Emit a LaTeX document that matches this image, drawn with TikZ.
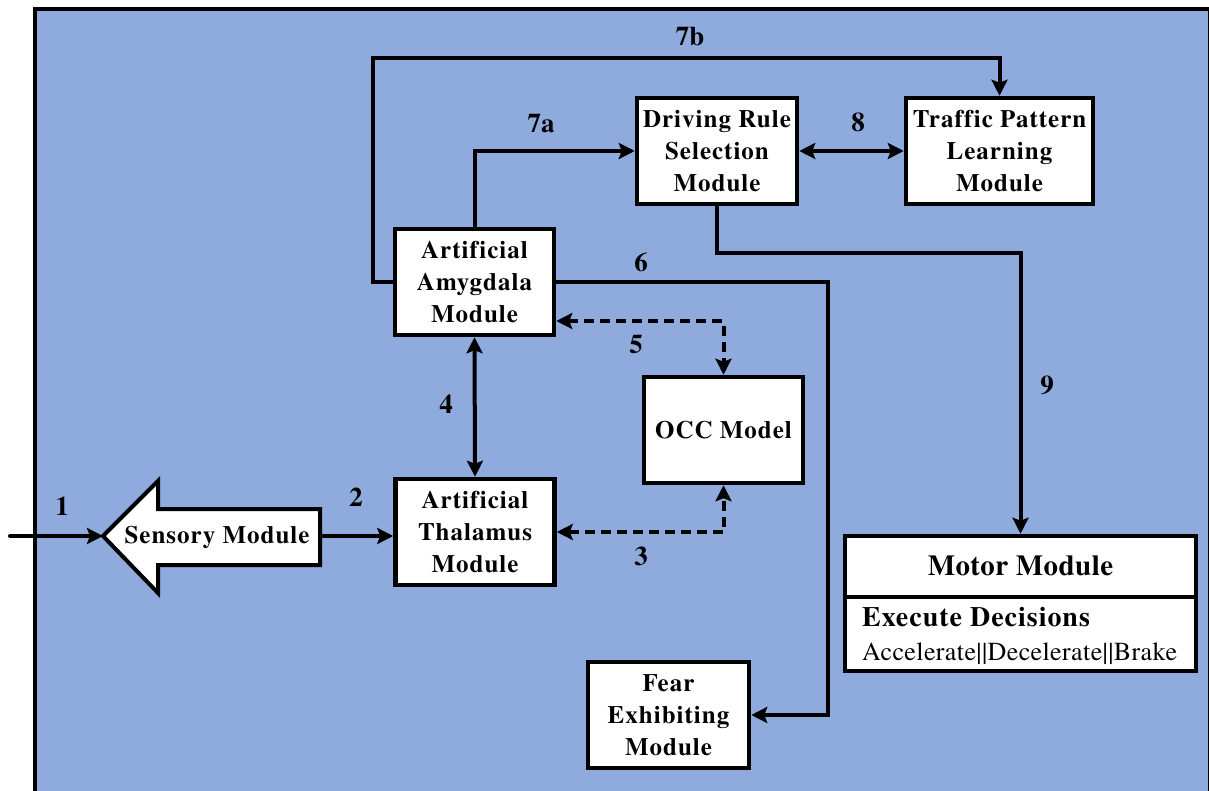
\documentclass[tikz,border=0pt]{standalone}
\usepackage{fontspec}
\setmainfont{texgyretermes}[Extension=.otf, UprightFont=*-regular, BoldFont=*-bold, ItalicFont=*-italic, BoldItalicFont=*-bolditalic, Ligatures=NoCommon]
\usetikzlibrary{arrows.meta}
\definecolor{framebg}{RGB}{143,170,220}
\tikzset{
  box/.style={draw, line width=4.5pt, fill=white, align=center, inner sep=0pt,
    font=\bfseries\fontsize{25}{32}\selectfont\addfontfeature{LetterSpace=4}},
  tipS/.tip={Stealth[length=16pt,width=16pt,inset=3pt]},
  conn/.style={line width=4pt, -tipS},
  bconn/.style={line width=4pt, tipS-tipS},
  dconn/.style={line width=4pt, tipS-tipS, dash pattern=on 10pt off 6pt},
  lab/.style={font=\bfseries\fontsize{27}{30}\selectfont, inner sep=0pt}
}
\begin{document}
\begin{tikzpicture}[x=1pt,y=-1pt]
\useasboundingbox (0,0) rectangle (1209,791);
\draw[fill=framebg, line width=4pt] (35,9) rectangle (1210,805);

% boxes
\node[box, minimum width=159pt, minimum height=106pt] (thal) at (475,532) {Artificial\\Thalamus\\Module};
\node[box, minimum width=159pt, minimum height=106pt] (amyg) at (474.5,282) {Artificial\\Amygdala\\Module};
\node[box, minimum width=160pt, minimum height=106pt] (drive) at (717,151) {Driving Rule\\Selection\\Module};
\node[box, minimum width=187pt, minimum height=106pt] (traffic) at (999.5,151) {Traffic Pattern\\Learning\\Module};
\node[box, minimum width=159pt, minimum height=106pt] (occ) at (723.5,430) {OCC Model};
\node[box, minimum width=161pt, minimum height=106pt] (fear) at (668.5,715) {Fear\\Exhibiting\\Module};

% motor module
\node[box, minimum width=351pt, minimum height=135pt] (motor) at (1020.5,603.5) {};
\draw[line width=4.5pt] (motor.west |- 0,597) -- (motor.east |- 0,597);
\node[font=\bfseries\fontsize{29}{34}\selectfont\addfontfeature{LetterSpace=1.5}, inner sep=0pt] (motorhead) at (1020.5,566) {Motor Module};
\node[anchor=west, inner sep=0pt, font=\bfseries\fontsize{28}{32}\selectfont\addfontfeature{LetterSpace=3.5}] (exec) at (862,617) {Execute Decisions};
\node[anchor=west, inner sep=0pt, font=\fontsize{26}{30}\selectfont\addfontfeature{LetterSpace=1.5}] (acts) at (862,654) {Accelerate||Decelerate||Brake};

% sensory arrow shape
\draw[line width=4pt, fill=white, line join=miter] (103,536) -- (158,481) -- (158,509) -- (320,509) -- (320,565) -- (158,565) -- (158,593) -- cycle;
\node[font=\bfseries\fontsize{25}{30}\selectfont\addfontfeature{LetterSpace=4}, inner sep=0pt] (sens) at (217,537) {Sensory Module};
\coordinate (senstip) at (103,536);
\coordinate (sensend) at (320,536);
\coordinate (input) at (10,536);

% connectors
\draw[conn, line cap=round] (input) -- (senstip);
\draw[conn] (sensend) -- (thal.west |- sensend);
\draw[bconn] (thal.north) -- (amyg.south);
\draw[dconn] (thal.east) -| (occ.south);
\draw[dconn] ([yshift=-39pt]amyg.east) -| (occ.north);
\coordinate (c6) at (828,0);
\draw[conn, line join=miter] (amyg.east) -| (c6 |- fear.east) -- (fear.east);
\draw[conn, line join=miter] (amyg.north) |- (drive.west);
\coordinate (c7b) at (373,58);
\draw[conn, line join=miter] (amyg.west) -| (c7b) -| (traffic.north);
\draw[bconn] (drive.east) -- (traffic.west);
\coordinate (c9) at (0,253);
\draw[conn, line join=miter] (drive.south) -- (drive.south |- c9) -| (motor.north);

% labels
\node[lab] (l1) at (62,506) {1};
\node[lab] (l2) at (356,497) {2};
\node[lab] (l3) at (641,556) {3};
\node[lab] (l4) at (446,404) {4};
\node[lab] (l5) at (636,344) {5};
\node[lab] (l6) at (641,262) {6};
\node[lab] (l7a) at (541,124) {7a};
\node[lab] (l7b) at (690,37) {7b};
\node[lab] (l8) at (858,122) {8};
\node[lab] (l9) at (1047,385) {9};
\end{tikzpicture}
\end{document}
